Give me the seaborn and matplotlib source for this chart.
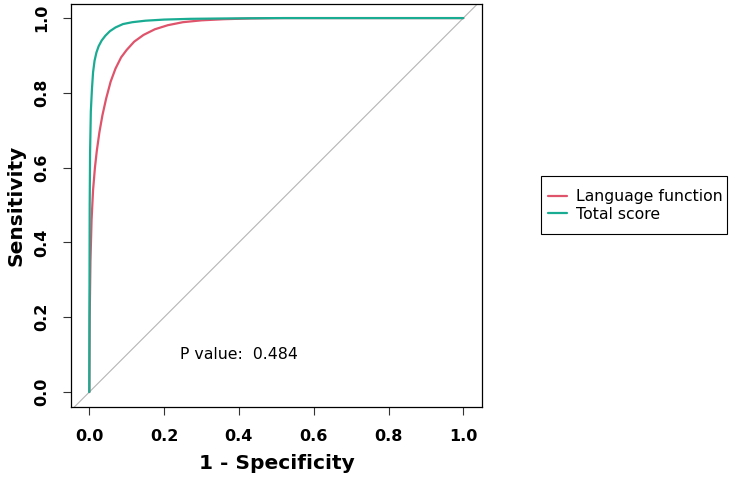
import pandas as pd
import matplotlib
matplotlib.use('Agg')
import matplotlib.pyplot as plt
from matplotlib.patches import Rectangle
import seaborn as sns

# ROC points (1 - specificity, sensitivity)
lang_fpr = [0.0, 0.001, 0.003, 0.006, 0.010, 0.015, 0.020, 0.027, 0.035, 0.045, 0.057, 0.070,
            0.085, 0.100, 0.120, 0.145, 0.175, 0.210, 0.250, 0.300, 0.360, 0.430, 0.520, 1.0]
lang_tpr = [0.0, 0.20, 0.35, 0.46, 0.54, 0.60, 0.645, 0.695, 0.74, 0.785, 0.83, 0.865,
            0.895, 0.915, 0.937, 0.955, 0.970, 0.981, 0.989, 0.994, 0.997, 0.999, 1.0, 1.0]
total_fpr = [0.0, 0.0005, 0.001, 0.002, 0.004, 0.007, 0.010, 0.014, 0.019, 0.025, 0.033,
             0.043, 0.055, 0.070, 0.090, 0.115, 0.15, 0.20, 0.27, 0.36, 0.5, 1.0]
total_tpr = [0.0, 0.30, 0.50, 0.64, 0.75, 0.81, 0.855, 0.886, 0.908, 0.925, 0.940,
             0.953, 0.965, 0.975, 0.984, 0.989, 0.993, 0.996, 0.998, 0.999, 1.0, 1.0]
series = ['Language function', 'Total score']
colors = ['#DF536B', '#1AAB93']
p_value = 0.484
xticks = [0.0, 0.2, 0.4, 0.6, 0.8, 1.0]
yticks = [0.0, 0.2, 0.4, 0.6, 0.8, 1.0]

df = pd.concat([
    pd.DataFrame({'fpr': lang_fpr, 'tpr': lang_tpr, 'model': series[0]}),
    pd.DataFrame({'fpr': total_fpr, 'tpr': total_tpr, 'model': series[1]}),
])

sns.set_style('ticks')
plt.rcParams['font.family'] = ['DejaVu Sans']
for k in ['text.color', 'axes.labelcolor', 'xtick.color', 'ytick.color']:
    plt.rcParams[k] = 'black'

W, H = 735, 479
fig = plt.figure(figsize=(W / 100, H / 100), dpi=100)
ax = fig.add_axes([71 / W, 1 - 407 / H, (482 - 71) / W, (407 - 3.5) / H])

ax.axline((0, 0), (1, 1), color='#b5b5b5', lw=0.8, zorder=1)
sns.lineplot(data=df, x='fpr', y='tpr', hue='model', hue_order=series,
             palette=dict(zip(series, colors)), sort=False, estimator=None,
             lw=1.6, ax=ax, legend=False, zorder=3)

ax.set_xlim(-0.049, 1.05)
ax.set_ylim(-0.04, 1.039)
ax.set_xticks(xticks)
ax.set_yticks(yticks)
ax.set_xticklabels([f'{t:.1f}' for t in xticks], fontweight='bold', fontsize=11.5)
ax.set_yticklabels([f'{t:.1f}' for t in yticks], fontweight='bold', fontsize=11.5,
                   rotation=90, va='center')
ax.tick_params(direction='out', length=6, width=0.8, color='#333333', pad=10)
for s in ax.spines.values():
    s.set_visible(True)
    s.set_color('black')
    s.set_linewidth(0.9)

ax.set_xlabel('1 - Specificity', fontsize=14.5, fontweight='bold', labelpad=7)
ax.set_ylabel('Sensitivity', fontsize=14.5, fontweight='bold', labelpad=6)

ax.text(0.4, 0.1, f'P value:  {p_value}', ha='center', va='center', fontsize=11.3)

# legend box outside the plot, R style
fig.patches.append(Rectangle((541 / W, 1 - 234 / H), (727 - 541) / W, (234 - 176) / H,
                             transform=fig.transFigure, fill=False,
                             edgecolor='black', lw=0.8))
handles = [plt.Line2D([], [], color=c, lw=1.6) for c in colors]
fig.legend(handles, series, loc='center left', bbox_to_anchor=(548 / W, 1 - 205.5 / H),
           borderaxespad=0, borderpad=0, frameon=False,
           fontsize=11.3, handlelength=1.2, handletextpad=0.6, labelspacing=0.15)

fig.savefig('out.png', dpi=100)
